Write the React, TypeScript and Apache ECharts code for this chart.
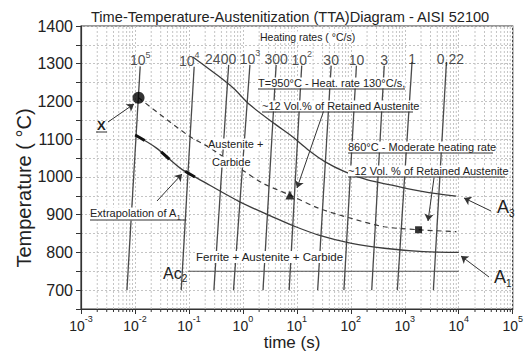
import React, { useEffect, useRef } from 'react';
import * as echarts from 'echarts';

// ---------- data ----------
// Heating-rate lines (°C/s): time at 700 °C and time at the upper end of each line
const rateLabels = ['10^5', '10^4', '2400', '10^3', '300', '10^2', '30', '10', '3', '1', '0,22'];
const rateTimeLow = [0.0071, 0.072, 0.29, 0.67, 2.36, 7.2, 24.3, 74.5, 244, 727, 3390];
const rateTimeHigh = [0.0125, 0.125, 0.545, 1.35, 4.13, 12.3, 43.2, 127, 416, 1364, 5920];
const rateTempHigh = [1293, 1292, 1297, 1297, 1297, 1295, 1295, 1295, 1295, 1305, 1305];
const rateTempLow = 700;

// A3 curve
const a3Time = [0.118, 0.333, 0.67, 1.35, 4.13, 8.18, 16.5, 33.6, 76.8, 204, 542, 2200, 8900];
const a3Temp = [1318, 1270, 1235, 1191, 1138, 1107, 1071, 1040, 1014, 992, 979, 961, 949];

// A1 curve (first points are the extrapolated part)
const a1Time = [0.0101, 0.0247, 0.0678, 0.178, 0.875, 4.13, 9.5, 25.4, 103, 416, 2230, 10000];
const a1Temp = [1111, 1077, 1024, 989, 934, 890, 868, 846, 824, 811, 802, 800];
const a1ExtrapolatedCount = 4;

// Austenite / Austenite + Carbide boundary (dashed)
const acmTime = [0.01165, 0.0946, 0.252, 1.09, 2.36, 7.43, 25.4, 103, 416, 1800, 9000];
const acmTemp = [1210, 1111, 1076, 1014, 983, 952, 917, 890, 868, 860, 855];

// Ac2 line
const ac2Time = [0.095, 10000];
const ac2Temp = 750;

// Marked points: X, T=950 °C, 860 °C
const pointTime = [0.01165, 7.43, 1800];
const pointTemp = [1210, 952, 860];

// axis ranges
const timeMin = 0.001;
const timeMax = 100000;
const tempMin = 650;
const tempMax = 1400;
const tempStep = 50;

// ---------- layout / style ----------
const FONT = '"Liberation Sans", Arial, Helvetica, sans-serif';
const INK = '#222';
const LINE = '#3c3c3c';
const GRID = '#c4c4c4';
const pointSymbols = ['circle', 'triangle', 'rect'];
const pointSizes = [12, 9, 7];
const labelNudge: Record<string, [number, number]> = {
  '10^4': [-5, 0],
  '2400': [-8, 0],
  '1': [0, 3],
  '0,22': [4, 3],
};

const minorTicks: number[] = [];
for (let e = -3; e < 5; e++) {
  for (let k = 2; k <= 9; k++) minorTicks.push(k * Math.pow(10, e));
}

function rateRich(label: string) {
  const m = label.split('^');
  return m.length === 2 ? `{b|${m[0]}}{s|${m[1]}}` : `{b|${label}}`;
}

function txt(x: number, y: number, text: string, extra: any = {}, el: any = {}) {
  return {
    type: 'text',
    x,
    y,
    z: 100,
    ...el,
    style: {
      text,
      fontFamily: FONT,
      fontSize: 11,
      fill: INK,
      align: 'left',
      verticalAlign: 'middle',
      backgroundColor: '#fff',
      ...extra,
    },
  };
}

function uline(x1: number, x2: number, y: number) {
  return {
    type: 'line',
    z: 101,
    shape: { x1, y1: y, x2, y2: y },
    style: { stroke: '#333', lineWidth: 1 },
  };
}

function subText(main: string, sub: string, mainSize: number, subSize: number, drop: number) {
  return {
    text: `{a|${main}}{s|${sub}}`,
    backgroundColor: 'transparent',
    rich: {
      a: { fontFamily: FONT, fontSize: mainSize, fill: INK, padding: [0, 0, drop, 0] },
      s: { fontFamily: FONT, fontSize: subSize, fill: INK, verticalAlign: 'bottom' },
    },
  };
}

export default function App() {
  const ref = useRef<HTMLDivElement>(null);

  useEffect(() => {
    if (!ref.current) return;
    const chart = echarts.init(ref.current, undefined, { renderer: 'svg' });

    const rateSeries = rateLabels.map((lab, i) => ({
      type: 'line',
      name: 'rate ' + lab,
      data: [
        [rateTimeLow[i], rateTempLow],
        [rateTimeHigh[i], rateTempHigh[i]],
      ],
      symbol: 'none',
      lineStyle: { color: '#4a4a4a', width: 1.3 },
      z: 3,
      silent: true,
    }));

    const option: any = {
      animation: false,
      backgroundColor: '#fff',
      title: {
        text: 'Time-Temperature-Austenitization (TTA)Diagram - AISI 52100',
        left: 86,
        top: 4,
        textStyle: { fontFamily: FONT, fontSize: 14.6, fontWeight: 'normal', color: INK },
      },
      grid: {
        left: 81,
        right: 5,
        top: 26,
        bottom: 42,
        show: true,
        borderColor: '#333',
        borderWidth: 1.2,
        backgroundColor: 'transparent',
      },
      xAxis: {
        type: 'log',
        logBase: 10,
        min: timeMin,
        max: timeMax,
        splitNumber: 8,
        axisLine: { show: true, lineStyle: { color: '#333', width: 1.2 } },
        axisTick: { show: true, length: 5, lineStyle: { color: '#333' } },
        splitLine: { show: true, lineStyle: { color: GRID, type: [2, 2], width: 1 } },
        axisLabel: {
          margin: 5,
          color: INK,
          fontFamily: FONT,
          formatter: (v: number) => `{b|10}{s|${Math.round(Math.log10(v))}}`,
          rich: {
            b: { fontFamily: FONT, fontSize: 14, color: INK, padding: [5, 0, 0, 0] },
            s: { fontFamily: FONT, fontSize: 9, color: INK, verticalAlign: 'top' },
          },
        },
      },
      yAxis: {
        type: 'value',
        min: tempMin,
        max: tempMax,
        interval: tempStep,
        axisLine: { show: true, lineStyle: { color: '#333', width: 1.2 } },
        axisTick: { show: true, length: 5, lineStyle: { color: '#333' } },
        splitLine: { show: true, lineStyle: { color: GRID, type: [2, 2], width: 1 } },
        axisLabel: {
          margin: 8,
          color: INK,
          fontFamily: FONT,
          fontSize: 16,
          formatter: (v: number) => (v % 100 === 0 ? String(v) : ''),
        },
      },
      series: [
        {
          type: 'custom',
          name: 'minor grid',
          silent: true,
          clip: false,
          z: 1,
          data: minorTicks.map((v) => [v, tempMin]),
          renderItem: (_params: any, api: any) => {
            const v = api.value(0);
            const p0 = api.coord([v, tempMin]);
            const p1 = api.coord([v, tempMax]);
            return {
              type: 'group',
              children: [
                {
                  type: 'line',
                  shape: { x1: p0[0], y1: p0[1], x2: p1[0], y2: p1[1] },
                  style: { stroke: GRID, lineWidth: 1, lineDash: [2, 2] },
                },
                {
                  type: 'line',
                  shape: { x1: p0[0], y1: p0[1], x2: p0[0], y2: p0[1] + 3 },
                  style: { stroke: '#333', lineWidth: 1 },
                },
              ],
            };
          },
        },
        ...rateSeries,
        {
          type: 'scatter',
          name: 'rate labels',
          silent: true,
          symbolSize: 0,
          z: 4,
          data: rateLabels.map((lab, i) => ({
            value: [rateTimeHigh[i], rateTempHigh[i]],
            label: { offset: labelNudge[lab] || [0, 0] },
          })),
          label: {
            show: true,
            position: 'top',
            distance: 0,
            formatter: (p: any) => rateRich(rateLabels[p.dataIndex]),
            rich: {
              b: { fontFamily: FONT, fontSize: 14, color: INK, lineHeight: 16, padding: [4, 0, 0, 0] },
              s: { fontFamily: FONT, fontSize: 9, color: INK, verticalAlign: 'top' },
            },
          },
        },
        {
          type: 'line',
          name: 'A3',
          data: a3Time.map((t, i) => [t, a3Temp[i]]),
          symbol: 'none',
          smooth: 0.3,
          lineStyle: { color: LINE, width: 1.3 },
          z: 5,
        },
        {
          type: 'line',
          name: 'A1',
          data: a1Time.map((t, i) => [t, a1Temp[i]]),
          symbol: 'none',
          smooth: 0.3,
          lineStyle: { color: LINE, width: 1.3 },
          z: 5,
        },
        {
          type: 'line',
          name: 'A1 extrapolation',
          data: a1Time.slice(0, a1ExtrapolatedCount).map((t, i) => [t, a1Temp[i]]),
          symbol: 'none',
          smooth: 0.3,
          lineStyle: { color: '#111', width: 3, type: [11, 20] },
          z: 6,
        },
        {
          type: 'line',
          name: 'Acm',
          data: acmTime.map((t, i) => [t, acmTemp[i]]),
          symbol: 'none',
          smooth: 0.3,
          lineStyle: { color: LINE, width: 1.2, type: [5, 4] },
          z: 5,
        },
        {
          type: 'line',
          name: 'Ac2',
          data: ac2Time.map((t) => [t, ac2Temp]),
          symbol: 'none',
          lineStyle: { color: '#555', width: 1.2 },
          z: 4,
          markLine: {
            silent: true,
            symbol: ['none', 'arrow'],
            symbolSize: 7,
            label: { show: false },
            lineStyle: { color: '#333', width: 1, type: 'solid' },
            data: [
              [{ x: 108, y: 122 }, { x: 134, y: 104 }],
              [{ x: 157, y: 201, lineStyle: { curveness: 0.25 } }, { x: 182, y: 174 }],
              [{ x: 324, y: 110 }, { x: 297, y: 188 }],
              [{ x: 434, y: 178 }, { x: 428, y: 221 }],
              [{ x: 491, y: 211, lineStyle: { curveness: -0.1 } }, { x: 464, y: 198 }],
              [{ x: 489, y: 277, lineStyle: { curveness: 0.3 } }, { x: 461, y: 256 }],
            ],
          },
        },
        {
          type: 'scatter',
          name: 'points',
          z: 8,
          data: pointTime.map((t, i) => ({
            value: [t, pointTemp[i]],
            symbol: pointSymbols[i],
            symbolSize: pointSizes[i],
          })),
          itemStyle: { color: '#000' },
        },
      ],
      graphic: [
        txt(
          24,
          188,
          'Temperature ( °C)',
          { fontSize: 20, align: 'center', backgroundColor: 'transparent' },
          { rotation: Math.PI / 2 }
        ),
        txt(292, 342, 'time (s)', { fontSize: 17, align: 'center', backgroundColor: 'transparent' }),
        txt(260, 37, 'Heating rates ( °C/s)', { fontSize: 10.5 }),
        txt(258, 83, 'T=950°C - Heat. rate 130°C/s,'),
        uline(258, 405, 89),
        txt(262, 106, '~12 Vol.% of Retained Austenite'),
        uline(262, 413, 112),
        txt(348, 147, '860°C - Moderate heating rate'),
        uline(348, 493, 153),
        txt(348, 171, '~12 Vol. % of Retained Austenite'),
        uline(348, 505, 177),
        txt(208, 144, 'Austenite +'),
        txt(212, 162, 'Carbide'),
        txt(196, 257, 'Ferrite + Austenite + Carbide', { fontSize: 11.5 }),
        txt(90, 214, '{n|Extrapolation of A}{u|1}', {
          rich: {
            n: { fontFamily: FONT, fontSize: 11, fill: INK, padding: [0, 0, 2, 0] },
            u: { fontFamily: FONT, fontSize: 7, fill: INK, verticalAlign: 'bottom' },
          },
        }),
        uline(90, 186, 220),
        txt(97, 125, 'X', { fontSize: 13, fontWeight: 'bold', backgroundColor: 'transparent' }),
        uline(96, 107, 132),
        txt(163, 274, '', subText('Ac', '2', 16, 10, 2)),
        txt(497, 208, '', subText('A', '3', 18, 10, 2)),
        txt(494, 278, '', subText('A', '1', 18, 10, 2)),
      ],
    };

    chart.setOption(option);
    return () => chart.dispose();
  }, []);

  return (
    <div
      ref={ref}
      style={{ position: 'fixed', left: 0, top: 0, width: 526, height: 351, background: '#fff' }}
    />
  );
}
